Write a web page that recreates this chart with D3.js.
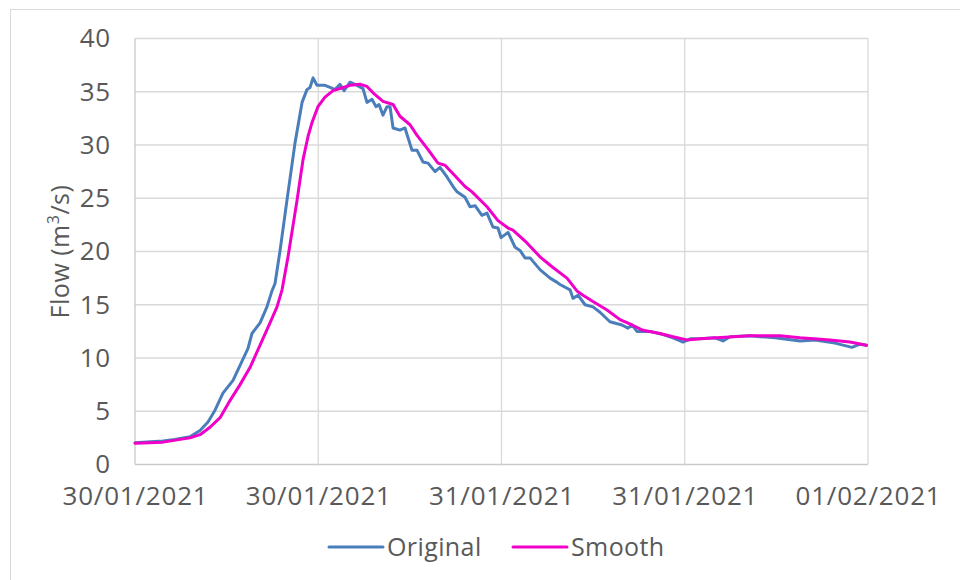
<!DOCTYPE html>
<html>
<head>
<meta charset="utf-8">
<script src="https://cdn.jsdelivr.net/npm/d3@7"></script>
<style>
  body { margin: 0; background: #fff; }
  svg text { font-family: "Open Sans", sans-serif; fill: #595959; }
</style>
</head>
<body>
<div id="chart"></div>
<script>
// hours since 30/01/2021 00:00 and flow (m3/s)
var origHours = [0, 1.83, 2.6, 3.6, 4.26, 4.78, 5.24, 5.76, 6.42, 6.88, 7.4, 7.66, 8.19, 8.64, 8.97, 9.17, 9.5, 9.95,
    10.48, 10.94, 11.26, 11.46, 11.66, 11.92, 12.44, 12.77, 13.1, 13.42, 13.69, 14.08, 14.54, 14.93, 15.19, 15.52,
    15.78, 15.98, 16.24, 16.5, 16.7, 16.9, 17.35, 17.68, 18.14, 18.47, 18.86, 19.19, 19.65, 19.97, 20.43, 20.83,
    21.09, 21.61, 21.94, 22.27, 22.72, 23.05, 23.44, 23.77, 23.97, 24.43, 24.89, 25.21, 25.54, 25.87, 26.52, 27.18,
    27.64, 27.83, 28.49, 28.68, 29.01, 29.47, 29.99, 30.45, 31.1, 31.89, 32.28, 32.55, 32.87, 33.73, 34.58, 35.23,
    35.89, 36.35, 37.0, 37.98, 38.51, 38.96, 40.27, 40.93, 41.91, 43.55, 44.53, 45.84, 46.95, 47.48, 47.9];
var origFlow = [2.05, 2.2, 2.35, 2.6, 3.2, 4.0, 5.1, 6.7, 7.9, 9.3, 10.9, 12.3, 13.3, 14.8, 16.3, 17.0, 20.1, 24.8,
    30.2, 34.0, 35.2, 35.4, 36.3, 35.6, 35.6, 35.4, 35.2, 35.7, 35.1, 35.9, 35.6, 35.3, 34.0, 34.3,
    33.6, 33.8, 32.8, 33.6, 33.6, 31.6, 31.4, 31.6, 29.5, 29.5, 28.4, 28.3, 27.5, 27.9, 27.0, 26.1,
    25.6, 25.1, 24.2, 24.3, 23.4, 23.6, 22.3, 22.2, 21.3, 21.8, 20.4, 20.1, 19.4, 19.4, 18.3, 17.5,
    17.1, 16.9, 16.4, 15.6, 15.9, 15.0, 14.8, 14.3, 13.4, 13.1, 12.8, 13.1, 12.5, 12.5, 12.2, 11.9,
    11.5, 11.8, 11.8, 11.9, 11.6, 12.0, 12.1, 12.0, 11.9, 11.6, 11.7, 11.4, 11.0, 11.3, 11.2];

var smoothHours = [0, 1.83, 3.6, 4.26, 4.91, 5.57, 6.22, 6.88, 7.53, 8.19, 8.84, 9.3, 9.63, 10.02, 10.61, 11.0,
    11.33, 11.59, 11.98, 12.44, 12.97, 13.42, 14.08, 14.73, 15.19, 15.59, 16.24, 16.9, 17.35, 18.01, 18.47,
    19.12, 19.84, 20.3, 21.09, 21.61, 22.07, 23.05, 23.77, 24.43, 24.75, 25.67, 26.52, 27.37, 28.29, 28.94,
    29.34, 29.99, 30.91, 31.76, 32.55, 33.27, 34.38, 35.23, 36.15, 37.0, 40.27, 42.24, 43.55, 45.51, 46.82, 47.9];
var smoothFlow = [2.0, 2.1, 2.5, 2.8, 3.5, 4.4, 6.0, 7.5, 9.1, 11.2, 13.3, 14.8, 16.4, 19.5, 24.8, 28.6,
    30.8, 32.1, 33.6, 34.5, 35.1, 35.3, 35.6, 35.7, 35.5, 34.9, 34.1, 33.8, 32.7, 31.9, 30.9,
    29.7, 28.3, 28.1, 26.9, 26.1, 25.6, 24.2, 22.9, 22.2, 22.0, 20.8, 19.5, 18.5, 17.5, 16.3,
    15.9, 15.3, 14.5, 13.6, 13.1, 12.6, 12.3, 12.0, 11.7, 11.8, 12.1, 12.1, 11.9, 11.7, 11.5, 11.2];

var xTicks = [0, 12, 24, 36, 48];
var xLabels = ["30/01/2021", "30/01/2021", "31/01/2021", "31/01/2021", "01/02/2021"];
var yTicks = [0, 5, 10, 15, 20, 25, 30, 35, 40];
var seriesNames = ["Original", "Smooth"];
var seriesColors = ["#4a7ebb", "#f000c8"];

var width = 960, height = 580;
var plotLeft = 135, plotRight = 868, plotTop = 38.5, plotBottom = 464.5;

var svg = d3.select('#chart').append('svg')
    .attr('width', width)
    .attr('height', height);

// chart border
svg.append('rect')
    .attr('x', 10.5).attr('y', 9.5)
    .attr('width', 960).attr('height', 600)
    .attr('fill', 'none')
    .attr('stroke', '#d9d9d9');

var x = d3.scaleLinear().domain([0, 48]).range([plotLeft, plotRight]);
var y = d3.scaleLinear().domain([0, 40]).range([plotBottom, plotTop]);

// grid
svg.append('g').selectAll('line')
    .data(yTicks).enter()
    .append('line')
    .attr('x1', plotLeft).attr('x2', plotRight)
    .attr('y1', function(d){ return y(d); })
    .attr('y2', function(d){ return y(d); })
    .attr('stroke', function(d){ return d === 0 ? '#c9c9c9' : '#d9d9d9'; })
    .attr('stroke-width', 1.3);

svg.append('g').selectAll('line')
    .data(xTicks).enter()
    .append('line')
    .attr('x1', function(d){ return x(d); })
    .attr('x2', function(d){ return x(d); })
    .attr('y1', plotTop).attr('y2', plotBottom)
    .attr('stroke', function(d){ return d === 0 ? '#c9c9c9' : '#d9d9d9'; })
    .attr('stroke-width', 1.3);

// axes (labels only)
var yAxis = svg.append('g')
    .attr('transform', 'translate(' + plotLeft + ',0)')
    .call(d3.axisLeft(y).tickValues(yTicks).tickSize(0).tickPadding(24));

var xAxis = svg.append('g')
    .attr('transform', 'translate(0,' + plotBottom + ')')
    .call(d3.axisBottom(x).tickValues(xTicks).tickSize(0).tickPadding(22)
        .tickFormat(function(d, i){ return xLabels[i]; }));

[yAxis, xAxis].forEach(function(g){
    g.select('.domain').remove();
    g.selectAll('text')
        .style('font-size', '26px')
        .style('letter-spacing', '0.8px')
        .style('font-family', '"Open Sans", sans-serif')
        .attr('fill', '#595959');
});

// y title
var title = svg.append('text')
    .attr('transform', 'translate(69,' + ((plotTop + plotBottom) / 2) + ') rotate(-90)')
    .attr('text-anchor', 'middle')
    .style('font-size', '25px')
    .style('letter-spacing', '0.5px');
title.append('tspan').text('Flow (m');
title.append('tspan').text('3').attr('dy', -10).style('font-size', '16px');
title.append('tspan').text('/s)').attr('dy', 10);

// lines
var line = d3.line()
    .x(function(d){ return x(d[0]); })
    .y(function(d){ return y(d[1]); });

var series = [
    d3.zip(origHours, origFlow),
    d3.zip(smoothHours, smoothFlow)
];

// smooth drawn on top of original
series.forEach(function(pts, i){
    svg.append('path')
        .datum(pts)
        .attr('d', line)
        .attr('fill', 'none')
        .attr('stroke', seriesColors[i])
        .attr('stroke-width', 3)
        .attr('stroke-linejoin', 'round')
        .attr('stroke-linecap', 'round');
});

// legend
var legendX = [329, 513];
var legend = svg.append('g');
seriesNames.forEach(function(name, i){
    legend.append('line')
        .attr('x1', legendX[i]).attr('x2', legendX[i] + 54)
        .attr('y1', 547).attr('y2', 547)
        .attr('stroke', seriesColors[i])
        .attr('stroke-width', 3)
        .attr('stroke-linecap', 'round');
    legend.append('text')
        .attr('x', legendX[i] + 58)
        .attr('y', 547)
        .attr('dy', '0.35em')
        .style('font-size', '25px')
        .style('letter-spacing', '0.4px')
        .text(name);
});
</script>
</body>
</html>
